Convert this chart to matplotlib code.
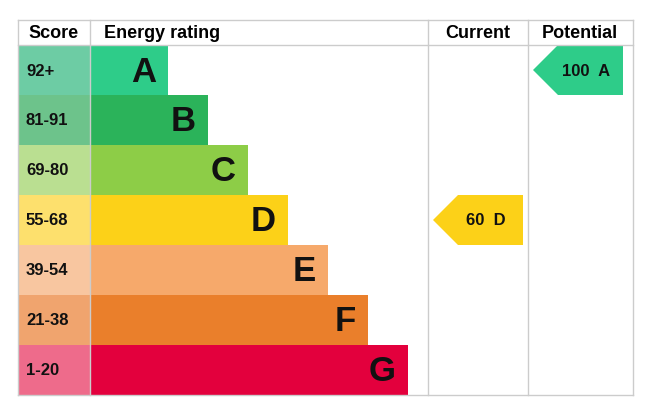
import matplotlib
matplotlib.use("Agg")
import matplotlib.pyplot as plt
from matplotlib.patches import Rectangle, Polygon

ratings = ["A", "B", "C", "D", "E", "F", "G"]
scores = ["92+", "81-91", "69-80", "55-68", "39-54", "21-38", "1-20"]
bar_colors = ["#2ecc89", "#2bb35a", "#8dcd47", "#fcd118", "#f6a96b", "#ea7f2b", "#e3003d"]
score_colors = ["#6dcca4", "#6dc38b", "#badf91", "#fde06d", "#f8c6a0", "#f0a46e", "#ee6b8b"]
current_value, current_rating = 60, "D"
potential_value, potential_rating = 100, "A"

plt.rcParams['font.family'] = ['Liberation Sans', 'DejaVu Sans']
fig = plt.figure(figsize=(6.5, 4.14), dpi=100)
ax = fig.add_axes([0, 0, 1, 1])
ax.set_xlim(0, 650); ax.set_ylim(414, 0); ax.axis('off')

L, R, T, HB = 18, 633, 21, 46
RH = 50
grid = "#cccccc"
# headers
ax.text(54, 34, "Score", ha='center', va='center', fontsize=13, fontweight='bold')
ax.text(104, 34, "Energy rating", ha='left', va='center', fontsize=13, fontweight='bold')
ax.text(478, 34, "Current", ha='center', va='center', fontsize=13, fontweight='bold')
ax.text(580, 34, "Potential", ha='center', va='center', fontsize=13, fontweight='bold')
bottom = HB + RH * len(ratings)
for x in [L, 90, 428, 528, R]:
    ax.plot([x, x], [T, bottom], color=grid, lw=1)
ax.plot([L, R], [T, T], color=grid, lw=1)
ax.plot([L, R], [HB, HB], color=grid, lw=1)
ax.plot([L, R], [bottom, bottom], color=grid, lw=1)

for i, (r, s) in enumerate(zip(ratings, scores)):
    y0 = HB + RH * i
    end = 168 + 40 * i
    ax.add_patch(Rectangle((L, y0), 90 - L, RH, color=score_colors[i], lw=0))
    ax.add_patch(Rectangle((90, y0), end - 90, RH, color=bar_colors[i], lw=0))
    ax.text(26, y0 + RH / 2, s, ha='left', va='center', fontsize=12, fontweight='bold', color='#111111')
    ax.text(end - 12, y0 + RH / 2 + 1, r, ha='right', va='center', fontsize=25, fontweight='bold', color='#111111')

def arrow(x0, x1, rating, value):
    i = ratings.index(rating)
    y0 = HB + RH * i
    pts = [(x0, y0 + RH / 2), (x0 + 25, y0), (x1, y0), (x1, y0 + RH), (x0 + 25, y0 + RH)]
    ax.add_patch(Polygon(pts, closed=True, color=bar_colors[i], lw=0))
    ax.text((x0 + x1) / 2 + 8, y0 + RH / 2, f"{value}  {rating}", ha='center', va='center',
            fontsize=12, fontweight='bold', color='#111111')

arrow(433, 523, current_rating, current_value)
arrow(533, 623, potential_rating, potential_value)

fig.savefig("out.png", dpi=100)
